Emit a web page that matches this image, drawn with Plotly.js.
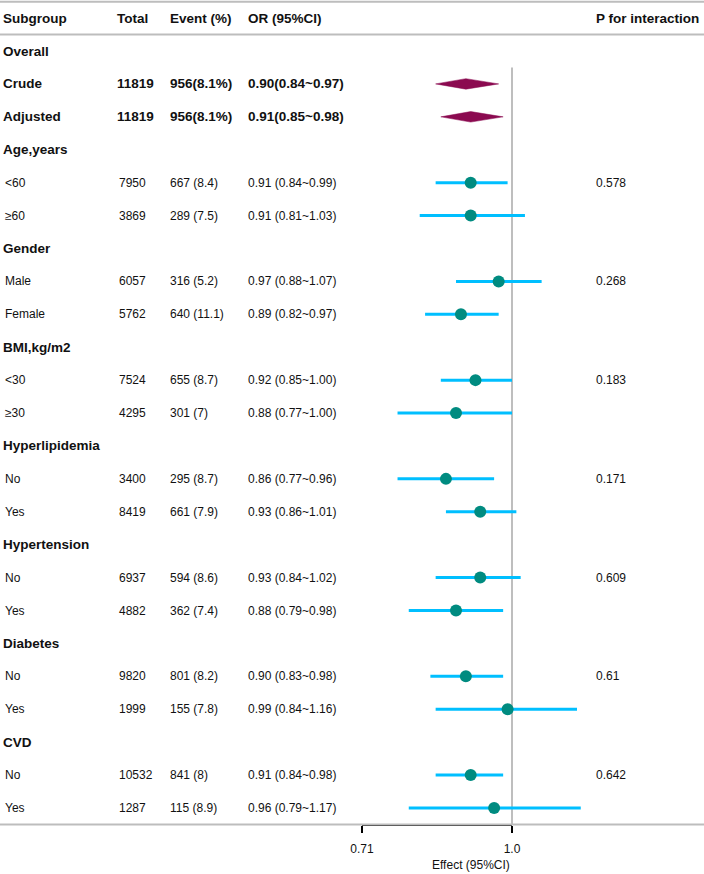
<!DOCTYPE html>
<html>
<head>
<meta charset="utf-8">
<script src="https://cdn.plot.ly/plotly-3.0.1.min.js"></script>
<style>html,body{margin:0;padding:0;background:#fff}#chart{width:704px;height:874px}</style>
</head>
<body>
<div id="chart"></div>
<script>
// ---- data ----
const rowLabels = ["Overall","Crude","Adjusted","Age,years","<60","\u226560","Gender","Male","Female","BMI,kg/m2","<30","\u226530","Hyperlipidemia","No","Yes","Hypertension","No","Yes","Diabetes","No","Yes","CVD","No","Yes"];
const rowKind   = ["group","overall","overall","group","sub","sub","group","sub","sub","group","sub","sub","group","sub","sub","group","sub","sub","group","sub","sub","group","sub","sub"];
const totals    = ["","11819","11819","","7950","3869","","6057","5762","","7524","4295","","3400","8419","","6937","4882","","9820","1999","","10532","1287"];
const events    = ["","956(8.1%)","956(8.1%)","","667 (8.4)","289 (7.5)","","316 (5.2)","640 (11.1)","","655 (8.7)","301 (7)","","295 (8.7)","661 (7.9)","","594 (8.6)","362 (7.4)","","801 (8.2)","155 (7.8)","","841 (8)","115 (8.9)"];
const orText    = ["","0.90(0.84~0.97)","0.91(0.85~0.98)","","0.91 (0.84~0.99)","0.91 (0.81~1.03)","","0.97 (0.88~1.07)","0.89 (0.82~0.97)","","0.92 (0.85~1.00)","0.88 (0.77~1.00)","","0.86 (0.77~0.96)","0.93 (0.86~1.01)","","0.93 (0.84~1.02)","0.88 (0.79~0.98)","","0.90 (0.83~0.98)","0.99 (0.84~1.16)","","0.91 (0.84~0.98)","0.96 (0.79~1.17)"];
const pInter    = ["","","","","0.578","","","0.268","","","0.183","","","0.171","","","0.609","","","0.61","","","0.642",""];
const estimate  = [null,0.90,0.91,null,0.91,0.91,null,0.97,0.89,null,0.92,0.88,null,0.86,0.93,null,0.93,0.88,null,0.90,0.99,null,0.91,0.96];
const lower     = [null,0.84,0.85,null,0.84,0.81,null,0.88,0.82,null,0.85,0.77,null,0.77,0.86,null,0.84,0.79,null,0.83,0.84,null,0.84,0.79];
const upper     = [null,0.97,0.98,null,0.99,1.03,null,1.07,0.97,null,1.00,1.00,null,0.96,1.01,null,1.02,0.98,null,0.98,1.16,null,0.98,1.17];
const headers   = ["Subgroup","Total","Event (%)","OR (95%CI)","P for interaction"];
const tickVals  = [0.71, 1.0];
const tickText  = ["0.71","1.0"];

// ---- layout helpers ----
const W = 704, H = 874;
const FONT = "Liberation Sans, Arial, sans-serif";
const px = v => v / W;
const colX = [1, 115, 168, 246, 594];
const nRows = rowLabels.length;
const rowPx = 32.913, firstPx = 51;
const yTop = -firstPx / rowPx, yBot = yTop + H / rowPx;
const pxPerDec = 150 / (-Math.log10(0.71));
const xr0 = -512 / pxPerDec, xr1 = (W - 512) / pxPerDec;

const traces = [];
const ann = [];

headers.forEach((h, i) => {
  ann.push({xref:'paper', yref:'y', x:px(colX[i]), y:-1, xanchor:'left', yanchor:'middle', text:'<b>'+h+'</b>', showarrow:false, font:{family:FONT,size:13.5,color:'#111'}});
});

for (let i = 0; i < nRows; i++) {
  const kind = rowKind[i];
  const bold = kind !== 'sub';
  const fs = bold ? 13.5 : 12;
  const wrap = t => bold ? '<b>'+t+'</b>' : t;
  const lx = kind === 'sub' ? 2.5 : 1;
  ann.push({xref:'paper', yref:'y', x:px(lx), y:i, xanchor:'left', yanchor:'middle', text:wrap(rowLabels[i]), showarrow:false, font:{family:FONT,size:fs,color:'#111'}});
  const cols = [totals[i], events[i], orText[i], pInter[i]];
  cols.forEach((t, j) => {
    if (!t) return;
    ann.push({xref:'paper', yref:'y', x:px(colX[j+1] + (kind==='sub' && j===0 ? 1.5 : 0)), y:i, xanchor:'left', yanchor:'middle', text:wrap(t), showarrow:false, font:{family:FONT,size:fs,color:'#111'}});
  });
}

traces.push({x:[1,1], y:[0.5, nRows - 0.5], mode:'lines', line:{color:'#BEBEBE', width:2}, hoverinfo:'skip', showlegend:false});

const ciX = [], ciY = [], ptX = [], ptY = [];
for (let i = 0; i < nRows; i++) {
  if (rowKind[i] === 'sub' && estimate[i] != null) {
    ciX.push(lower[i], upper[i], null); ciY.push(i, i, null);
    ptX.push(estimate[i]); ptY.push(i);
  }
}
traces.push({x:ciX, y:ciY, mode:'lines', line:{color:'#00BFFF', width:3}, hoverinfo:'skip', showlegend:false});
traces.push({x:ptX, y:ptY, mode:'markers', marker:{color:'#008B80', size:12}, hoverinfo:'skip', showlegend:false});

const dh = 0.16;
for (let i = 0; i < nRows; i++) {
  if (rowKind[i] === 'overall') {
    traces.push({x:[lower[i], estimate[i], upper[i], estimate[i], lower[i]], y:[i, i-dh, i, i+dh, i], mode:'lines', fill:'toself', fillcolor:'#8B0A50', line:{color:'#8B0A50', width:0.5}, hoverinfo:'skip', showlegend:false});
  }
}

traces.push({x:tickVals, y:[-50,-50], xaxis:'x2', yaxis:'y', mode:'markers', marker:{opacity:0}, hoverinfo:'skip', showlegend:false});

const shapes = [-1.5, -0.5, nRows - 0.5].map(yv => ({type:'line', xref:'paper', yref:'y', x0:0, x1:1, y0:yv, y1:yv, line:{color:'#BDBDBD', width:2}}));

ann.push({xref:'paper', yref:'paper', x:px(471), y:1 - 865/H, xanchor:'center', yanchor:'middle', text:'Effect (95%CI)', showarrow:false, font:{family:FONT,size:12,color:'#111'}});

const axisPos = 1 - (firstPx + (nRows - 0.5) * rowPx) / H;

const layout = {
  width: W, height: H,
  margin: {l:0, r:0, t:0, b:0},
  paper_bgcolor:'#fff', plot_bgcolor:'rgba(0,0,0,0)',
  showlegend:false,
  font:{family:FONT, size:12, color:'#111'},
  xaxis: {type:'log', range:[xr0, xr1], visible:false, fixedrange:true},
  xaxis2: {type:'log', domain:[362/W, 512/W], range:[Math.log10(0.71), 0], anchor:'free', position:axisPos,
           showline:true, linecolor:'#000', linewidth:1.2, ticks:'outside', ticklen:7, tickwidth:1.2, tickcolor:'#000',
           tickvals:tickVals, ticktext:tickText, tickfont:{family:FONT,size:12,color:'#111'}, ticklabelstandoff:6,
           showgrid:false, zeroline:false, fixedrange:true},
  yaxis: {range:[yBot, yTop], visible:false, fixedrange:true},
  shapes: shapes,
  annotations: ann
};

Plotly.newPlot('chart', traces, layout, {staticPlot:true, displayModeBar:false});
</script>
</body>
</html>
